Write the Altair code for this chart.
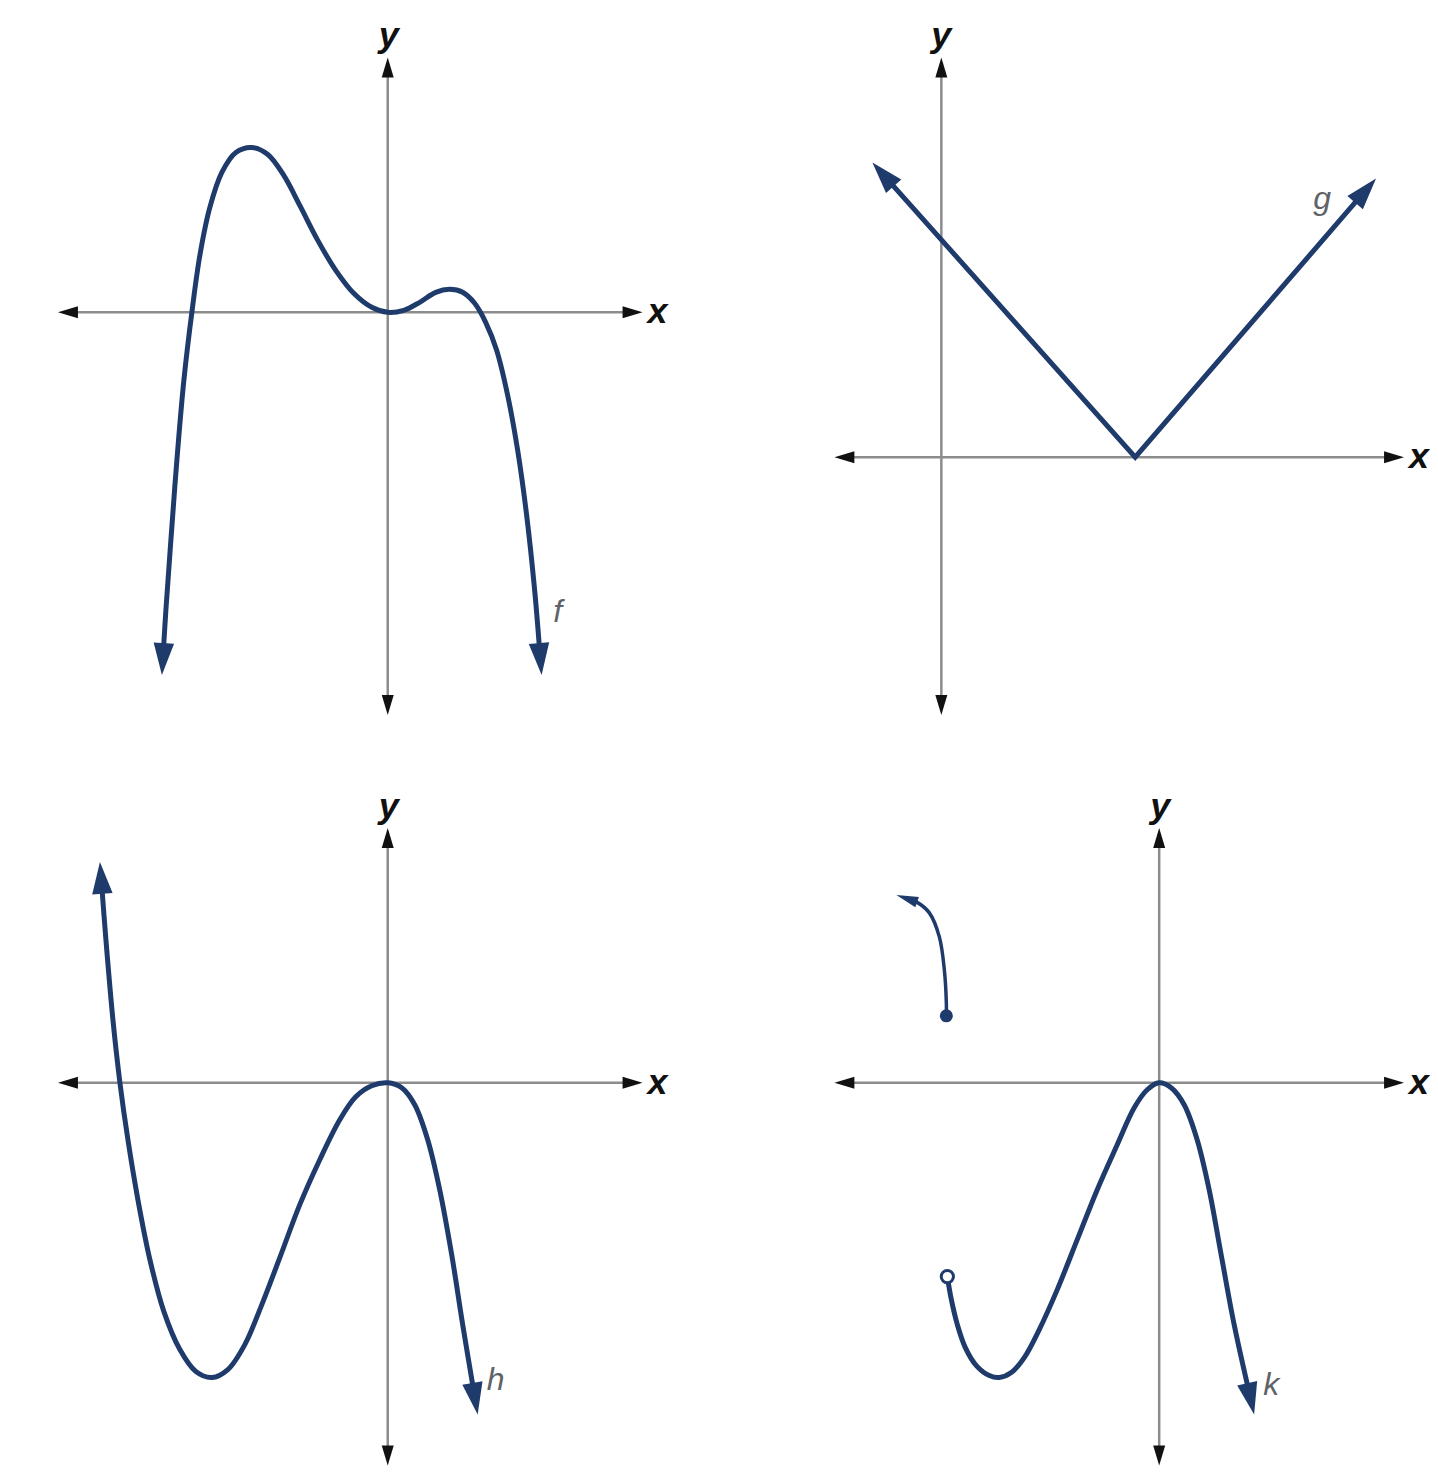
import math
import altair as alt
import pandas as pd

# ---------------- data: 1 unit = 10 px, origin at the crossing of the axes ----------------
# f : quartic-like curve, arrows at both ends
f_x = [-22.6, -22.2, -21.7, -21.1, -20.4, -19.6, -18.8, -17.8, -16.6, -15.2, -13.6, -12.0,
       -10.4, -8.8, -7.0, -5.2, -3.4, -1.6, 0.0, 1.6, 3.2, 4.8, 6.2, 7.5, 8.7, 9.8, 10.9,
       12.0, 13.0, 13.9, 14.7, 15.4]
f_y = [-36.3, -29.8, -22.8, -14.8, -6.8, 0.0, 5.7, 10.5, 14.0, 16.0, 16.5, 15.8,
       13.7, 10.7, 7.2, 4.2, 1.9, 0.5, 0.0, 0.2, 1.0, 2.0, 2.3, 2.0, 0.9, -1.0, -3.8,
       -8.3, -13.8, -20.3, -27.8, -36.3]

# g : V shape
g_x = [-6.9, 19.4, 43.5]
g_y = [29.5, 0.0, 27.9]

# h : cubic-like curve
h_x = [-28.8, -28.2, -27.5, -26.8, -26.0, -25.0, -23.8, -22.4, -20.8, -19.2, -17.6, -16.0,
       -14.3, -12.6, -10.8, -8.8, -6.8, -4.8, -3.2, -1.6, 0.0, 1.4, 2.7, 4.0, 5.2, 6.4, 7.5, 9.0]
h_y = [22.1, 14.3, 6.3, 0.0, -5.7, -11.7, -17.7, -22.9, -26.7, -28.9, -29.5, -28.7,
       -26.2, -22.2, -17.5, -12.2, -7.7, -3.7, -1.4, -0.3, 0.0, -0.5, -2.2, -5.7, -10.7,
       -17.2, -24.2, -33.2]

# k : piecewise, upper piece (closed dot -> arrow) and lower piece (open dot -> arrow)
k_up_x = [-21.3, -21.3, -21.5, -22.0, -23.0, -24.3, -26.3]
k_up_y = [6.7, 8.0, 11.3, 14.6, 17.0, 18.1, 18.8]
k_lo_x = [-21.2, -20.8, -20.2, -19.4, -18.3, -17.0, -16.0, -14.8, -13.5, -12.0, -10.2, -8.2,
          -6.2, -4.2, -2.5, -1.2, 0.0, 1.2, 2.5, 3.8, 5.0, 6.2, 7.5, 9.5]
k_lo_y = [-19.4, -21.7, -24.2, -26.5, -28.3, -29.3, -29.5, -29.0, -27.5, -24.7, -20.7, -15.7,
          -10.7, -6.2, -2.5, -0.7, 0.0, -0.5, -2.2, -5.7, -10.7, -17.2, -24.2, -33.2]
k_closed = [(-21.3, 6.7)]
k_open = [(-21.2, -19.4)]

# axis extents [min, max] per panel
f_axis_x, f_axis_y = [-33.0, 25.5], [-40.3, 25.5]
g_axis_x, g_axis_y = [-10.7, 46.3], [-25.8, 40.0]
h_axis_x, h_axis_y = [-33.0, 25.5], [-38.3, 25.5]
k_axis_x, k_axis_y = [-32.5, 24.5], [-38.3, 25.5]

# label positions (text baseline)
f_labels = {"x": (27.0, -1.1), "y": (0.1, 26.5), "f": (17.0, -31.0)}
g_labels = {"x": (47.8, -1.1), "y": (0.0, 41.0), "g": (38.1, 24.8)}
h_labels = {"x": (27.0, -1.1), "y": (0.1, 26.5), "h": (10.8, -30.7)}
k_labels = {"x": (26.0, -1.1), "y": (0.1, 26.5), "k": (11.2, -31.2)}

# ---------------- style / layout ----------------
PX = 10
NAVY = "#1f3b6b"
AXIS_GRAY = "#8c8c8c"
ARROW_BLACK = "#111111"
LABEL_GRAY = "#5f6368"
FONT = "Liberation Sans"
CURVE_HEAD = "M0,0L0.32,1L-0.32,1Z"
AXIS_HEAD = "M0,0L0.3,1L-0.3,1Z"


def heading(x0, y0, x1, y1):
    return math.degrees(math.atan2(x1 - x0, y1 - y0)) % 360


def trim(xs, ys, amount, at_start, at_end):
    xs, ys = list(xs), list(ys)
    if at_end:
        dx, dy = xs[-1] - xs[-2], ys[-1] - ys[-2]
        d = math.hypot(dx, dy)
        xs[-1] -= amount * dx / d
        ys[-1] -= amount * dy / d
    if at_start:
        dx, dy = xs[0] - xs[1], ys[0] - ys[1]
        d = math.hypot(dx, dy)
        xs[0] -= amount * dx / d
        ys[0] -= amount * dy / d
    return xs, ys


def make_panel(w, h, ox, oy, ax_x, ax_y, curves, labels, closed=(), opened=()):
    sx = alt.Scale(domain=[-ox / PX, (w - ox) / PX], nice=False, zero=False)
    sy = alt.Scale(domain=[-(h - oy) / PX, oy / PX], nice=False, zero=False)

    def xy():
        return dict(x=alt.X("x:Q", scale=sx, axis=None), y=alt.Y("y:Q", scale=sy, axis=None))

    layers = []
    t = 1.0
    axes_df = pd.DataFrame({"x": [ax_x[0] + t, 0.0], "x2": [ax_x[1] - t, 0.0],
                            "y": [0.0, ax_y[0] + t], "y2": [0.0, ax_y[1] - t]})
    layers.append(alt.Chart(axes_df).mark_rule(color=AXIS_GRAY, strokeWidth=2.5).encode(
        **xy(), x2=alt.X2("x2"), y2=alt.Y2("y2")))
    heads = pd.DataFrame({"x": [ax_x[1], ax_x[0], 0.0, 0.0], "y": [0.0, 0.0, ax_y[1], ax_y[0]],
                          "angle": [90, 270, 0, 180]})
    layers.append(alt.Chart(heads).mark_point(shape=AXIS_HEAD, filled=True, color=ARROW_BLACK,
                                              opacity=1, size=1600, strokeWidth=0).encode(
        **xy(), angle=alt.Angle("angle:Q", scale=None)))

    for c in curves:
        xs, ys = c["x"], c["y"]
        lx, ly = trim(xs, ys, c["trim"], c["start"], c["end"])
        df = pd.DataFrame({"x": lx, "y": ly, "i": list(range(len(lx)))})
        layers.append(alt.Chart(df).mark_line(color=NAVY, strokeWidth=c["sw"], interpolate=c["interp"],
                                              strokeCap="butt").encode(**xy(), order=alt.Order("i:Q")))
        ax_, ay_, ang = [], [], []
        if c["end"]:
            ax_.append(xs[-1]); ay_.append(ys[-1]); ang.append(heading(xs[-2], ys[-2], xs[-1], ys[-1]))
        if c["start"]:
            ax_.append(xs[0]); ay_.append(ys[0]); ang.append(heading(xs[1], ys[1], xs[0], ys[0]))
        adf = pd.DataFrame({"x": ax_, "y": ay_, "angle": ang})
        layers.append(alt.Chart(adf).mark_point(shape=c["head"], filled=True, color=NAVY, opacity=1,
                                                size=c["head_size"], strokeWidth=0).encode(
            **xy(), angle=alt.Angle("angle:Q", scale=None)))

    if closed:
        cdf = pd.DataFrame({"x": [p[0] for p in closed], "y": [p[1] for p in closed]})
        layers.append(alt.Chart(cdf).mark_point(shape="circle", filled=True, color=NAVY, opacity=1,
                                                size=170).encode(**xy()))
    if opened:
        odf = pd.DataFrame({"x": [p[0] for p in opened], "y": [p[1] for p in opened]})
        layers.append(alt.Chart(odf).mark_point(shape="circle", filled=True, fill="white", stroke=NAVY,
                                                strokeWidth=3, opacity=1, size=150).encode(**xy()))

    axis_txt = pd.DataFrame({"x": [labels["x"][0], labels["y"][0]], "y": [labels["x"][1], labels["y"][1]],
                             "t": ["x", "y"]})
    layers.append(alt.Chart(axis_txt).mark_text(font=FONT, fontSize=36, fontStyle="italic", fontWeight="bold",
                                                color="#111111", align="center", baseline="alphabetic"
                                                ).encode(**xy(), text="t:N"))
    fk = [k for k in labels if k not in ("x", "y")][0]
    fn_txt = pd.DataFrame({"x": [labels[fk][0]], "y": [labels[fk][1]], "t": [fk]})
    layers.append(alt.Chart(fn_txt).mark_text(font=FONT, fontSize=32, fontStyle="italic",
                                              color=LABEL_GRAY, align="center", baseline="alphabetic"
                                              ).encode(**xy(), text="t:N"))
    return alt.layer(*layers).properties(width=w, height=h)


def curve(xs, ys, start, end, interp="catmull-rom", sw=5, head=CURVE_HEAD, head_size=4096, t=1.5):
    return dict(x=xs, y=ys, start=start, end=end, interp=interp, sw=sw, head=head,
                head_size=head_size, trim=t)


W_L, W_R = 711, 711
H_T, H_B = 752, 709

pf = make_panel(W_L, H_T, 380, 304, f_axis_x, f_axis_y,
                [curve(f_x, f_y, True, True)], f_labels)
pg = make_panel(W_R, H_T, 223, 449, g_axis_x, g_axis_y,
                [curve(g_x, g_y, True, True, interp="linear")], g_labels)
ph = make_panel(W_L, H_B, 380, 323, h_axis_x, h_axis_y,
                [curve(h_x, h_y, True, True)], h_labels)
pk = make_panel(W_R, H_B, 441, 323, k_axis_x, k_axis_y,
                [curve(k_up_x, k_up_y, False, True, sw=3.5, head="M0,0L0.25,1L-0.25,1Z", head_size=1936, t=1.0),
                 curve(k_lo_x, k_lo_y, False, True)],
                k_labels, closed=k_closed, opened=k_open)

chart = alt.concat(pf, pg, ph, pk, columns=2, spacing=0, bounds="flush").properties(
    padding=0).configure_view(stroke=None)

chart.save("out.html", embed_options={"renderer": "svg", "actions": False})
